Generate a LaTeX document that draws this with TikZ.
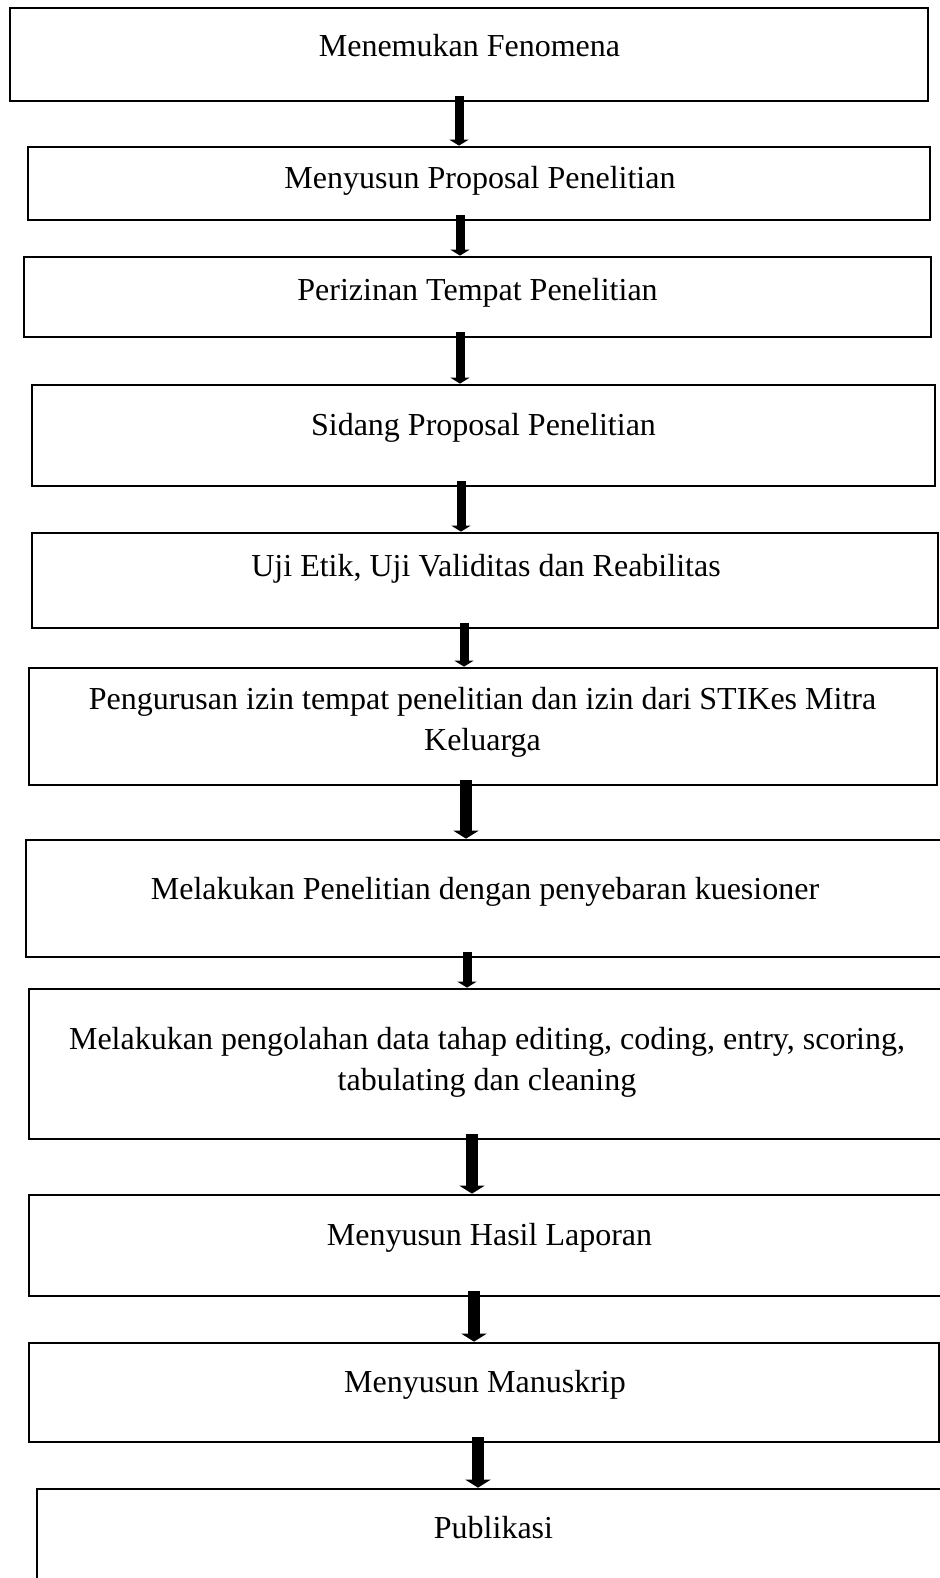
\documentclass[tikz,border=0pt]{standalone}
\usepackage{fontspec}
\setmainfont{Liberation Serif}
\usetikzlibrary{arrows.meta}
\tikzstyle{FlowBox} = [draw, rectangle, line width=1.35pt, inner sep=0pt]
\tikzstyle{FlowText} = [anchor=base, align=center, inner sep=0pt, font=\fontsize{16}{20.3}\selectfont]

\begin{document}
\begin{tikzpicture}[x=0.5pt, y=-0.5pt,
    flow/.style={line width=4.5pt, -{Triangle[width=9.5pt,length=3pt]}, shorten <=-3pt},
    bigflow/.style={flow, line width=5.75pt, -{Triangle[width=12.5pt,length=4pt]}}]

    \useasboundingbox (0,0) rectangle (940,1578);
    \clip (0,0) rectangle (940,1578);

    % boxes
    \node[FlowBox, minimum width=459pt, minimum height=46.5pt] (fenomena) at (469,54.5) {};
    \node[FlowBox, minimum width=451pt, minimum height=36.5pt] (proposal) at (479,183.5) {};
    \node[FlowBox, minimum width=453.5pt, minimum height=40pt] (perizinan) at (477.5,297) {};
    \node[FlowBox, minimum width=451.5pt, minimum height=50.5pt] (sidang) at (483.5,435.5) {};
    \node[FlowBox, minimum width=453pt, minimum height=47.5pt] (ujietik) at (485,580.5) {};
    \node[FlowBox, minimum width=454pt, minimum height=58.5pt] (izin) at (483,726.5) {};
    \node[FlowBox, minimum width=472pt, minimum height=58.5pt] (penelitian) at (498,898.5) {};
    \node[FlowBox, minimum width=470.5pt, minimum height=75pt] (pengolahan) at (499.5,1064) {};
    \node[FlowBox, minimum width=470.5pt, minimum height=50.5pt] (laporan) at (499.5,1245.5) {};
    \node[FlowBox, minimum width=455pt, minimum height=49.5pt] (manuskrip) at (484,1392.5) {};
    \node[FlowBox, minimum width=466.5pt, minimum height=60.5pt] (publikasi) at (503.5,1549.5) {};

    % texts
    \node[FlowText] (fenomena-text) at (469.5,57) {Menemukan Fenomena};
    \node[FlowText] (proposal-text) at (480,189) {Menyusun Proposal Penelitian};
    \node[FlowText] (perizinan-text) at (477.5,300) {Perizinan Tempat Penelitian};
    \node[FlowText] (sidang-text) at (483.5,435) {Sidang Proposal Penelitian};
    \node[FlowText] (ujietik-text) at (486,576) {Uji Etik, Uji Validitas dan Reabilitas};
    \node[FlowText] (izin-text) at (482.5,750) {Pengurusan izin tempat penelitian dan izin dari STIKes Mitra\\Keluarga};
    \node[FlowText] (penelitian-text) at (485,899) {Melakukan Penelitian dengan penyebaran kuesioner};
    \node[FlowText] (pengolahan-text) at (487,1090) {Melakukan pengolahan data tahap editing, coding, entry, scoring,\\tabulating dan cleaning};
    \node[FlowText] (laporan-text) at (489.5,1245) {Menyusun Hasil Laporan};
    \node[FlowText] (manuskrip-text) at (485,1392) {Menyusun Manuskrip};
    \node[FlowText] (publikasi-text) at (493.5,1538) {Publikasi};

    % arrows
    \coordinate (arrow1) at (459,0);
    \coordinate (arrow2) at (460,0);
    \coordinate (arrow3) at (460,0);
    \coordinate (arrow4) at (461,0);
    \coordinate (arrow5) at (464,0);
    \coordinate (arrow6) at (466,0);
    \coordinate (arrow7) at (467,0);
    \coordinate (arrow8) at (472,0);
    \coordinate (arrow9) at (474,0);
    \coordinate (arrow10) at (478,0);

    \draw[flow] (fenomena.south -| arrow1) -- (proposal.north -| arrow1);
    \draw[flow] (proposal.south -| arrow2) -- (perizinan.north -| arrow2);
    \draw[flow] (perizinan.south -| arrow3) -- (sidang.north -| arrow3);
    \draw[flow] (sidang.south -| arrow4) -- (ujietik.north -| arrow4);
    \draw[flow] (ujietik.south -| arrow5) -- (izin.north -| arrow5);
    \draw[bigflow] (izin.south -| arrow6) -- (penelitian.north -| arrow6);
    \draw[flow] (penelitian.south -| arrow7) -- (pengolahan.north -| arrow7);
    \draw[bigflow] (pengolahan.south -| arrow8) -- (laporan.north -| arrow8);
    \draw[bigflow] (laporan.south -| arrow9) -- (manuskrip.north -| arrow9);
    \draw[bigflow] (manuskrip.south -| arrow10) -- (publikasi.north -| arrow10);
\end{tikzpicture}
\end{document}
